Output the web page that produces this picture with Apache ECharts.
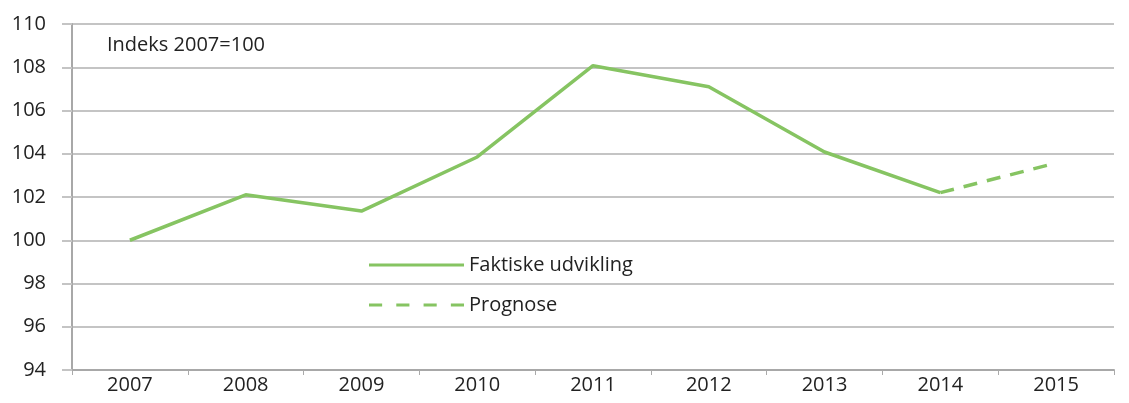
<!DOCTYPE html>
<html>
<head>
<meta charset="utf-8">
<script src="https://cdn.jsdelivr.net/npm/echarts@6/dist/echarts.min.js"></script>
<style>
html, body { margin: 0; padding: 0; background: #fff; }
#chart { width: 1129px; height: 403px; }
</style>
</head>
<body>
<div id="chart"></div>
<script>
const years = ['2007', '2008', '2009', '2010', '2011', '2012', '2013', '2014', '2015']
const actual = [100, 102.1, 101.35, 103.85, 108.07, 107.1, 104.08, 102.2, null]
const forecast = [null, null, null, null, null, null, null, 102.2, 103.57]

const green = '#86c462'
const grey = '#c4c4c4'
const font = 'Open Sans'

const chart = echarts.init(document.getElementById('chart'))
chart.setOption({
    animation: false,
    backgroundColor: '#fff',
    textStyle: { fontFamily: font },
    graphic: [{
        type: 'text',
        left: 107,
        top: 35,
        style: { text: 'Indeks 2007=100', fontSize: 20, fontFamily: font, fill: '#222' }
    }],
    legend: {
        orient: 'vertical',
        left: 364,
        top: 250,
        itemWidth: 95,
        itemHeight: 14,
        itemGap: 20,
        textStyle: { fontSize: 20, lineHeight: 20, color: '#222', fontFamily: font, padding: [0, 0, 0, 0] },
        data: [
            { name: 'Faktiske udvikling', icon: 'path://M0,0H95V3H0Z' },
            { name: 'Prognose', icon: 'path://M0,0H13V3H0ZM27,0H40V3H27ZM54,0H67V3H54ZM81,0H94V3H81Z' }
        ]
    },
    grid: { left: 72, right: 15, top: 24, bottom: 33, containLabel: false },
    xAxis: {
        type: 'category',
        data: years,
        boundaryGap: true,
        axisLine: { lineStyle: { color: '#a8a8a8', width: 2 } },
        axisTick: { show: true, length: 5, lineStyle: { color: '#aaa' } },
        axisLabel: { fontSize: 20, color: '#222', margin: 5, fontFamily: font },
        splitLine: { show: false }
    },
    yAxis: {
        type: 'value',
        min: 94,
        max: 110,
        interval: 2,
        axisLine: { show: true, lineStyle: { color: '#a8a8a8', width: 2 } },
        axisTick: { show: true, length: 10, lineStyle: { color: grey, width: 2 } },
        axisLabel: { fontSize: 20, color: '#222', margin: 26, fontFamily: font },
        splitLine: { lineStyle: { color: grey, width: 2 } }
    },
    series: [
        {
            name: 'Faktiske udvikling',
            type: 'line',
            data: actual,
            symbol: 'none',
            itemStyle: { color: green },
            lineStyle: { color: green, width: 3.5 }
        },
        {
            name: 'Prognose',
            type: 'line',
            data: forecast,
            symbol: 'none',
            itemStyle: { color: green },
            lineStyle: { color: green, width: 3.5, type: [14, 10] }
        }
    ]
})
</script>
</body>
</html>
